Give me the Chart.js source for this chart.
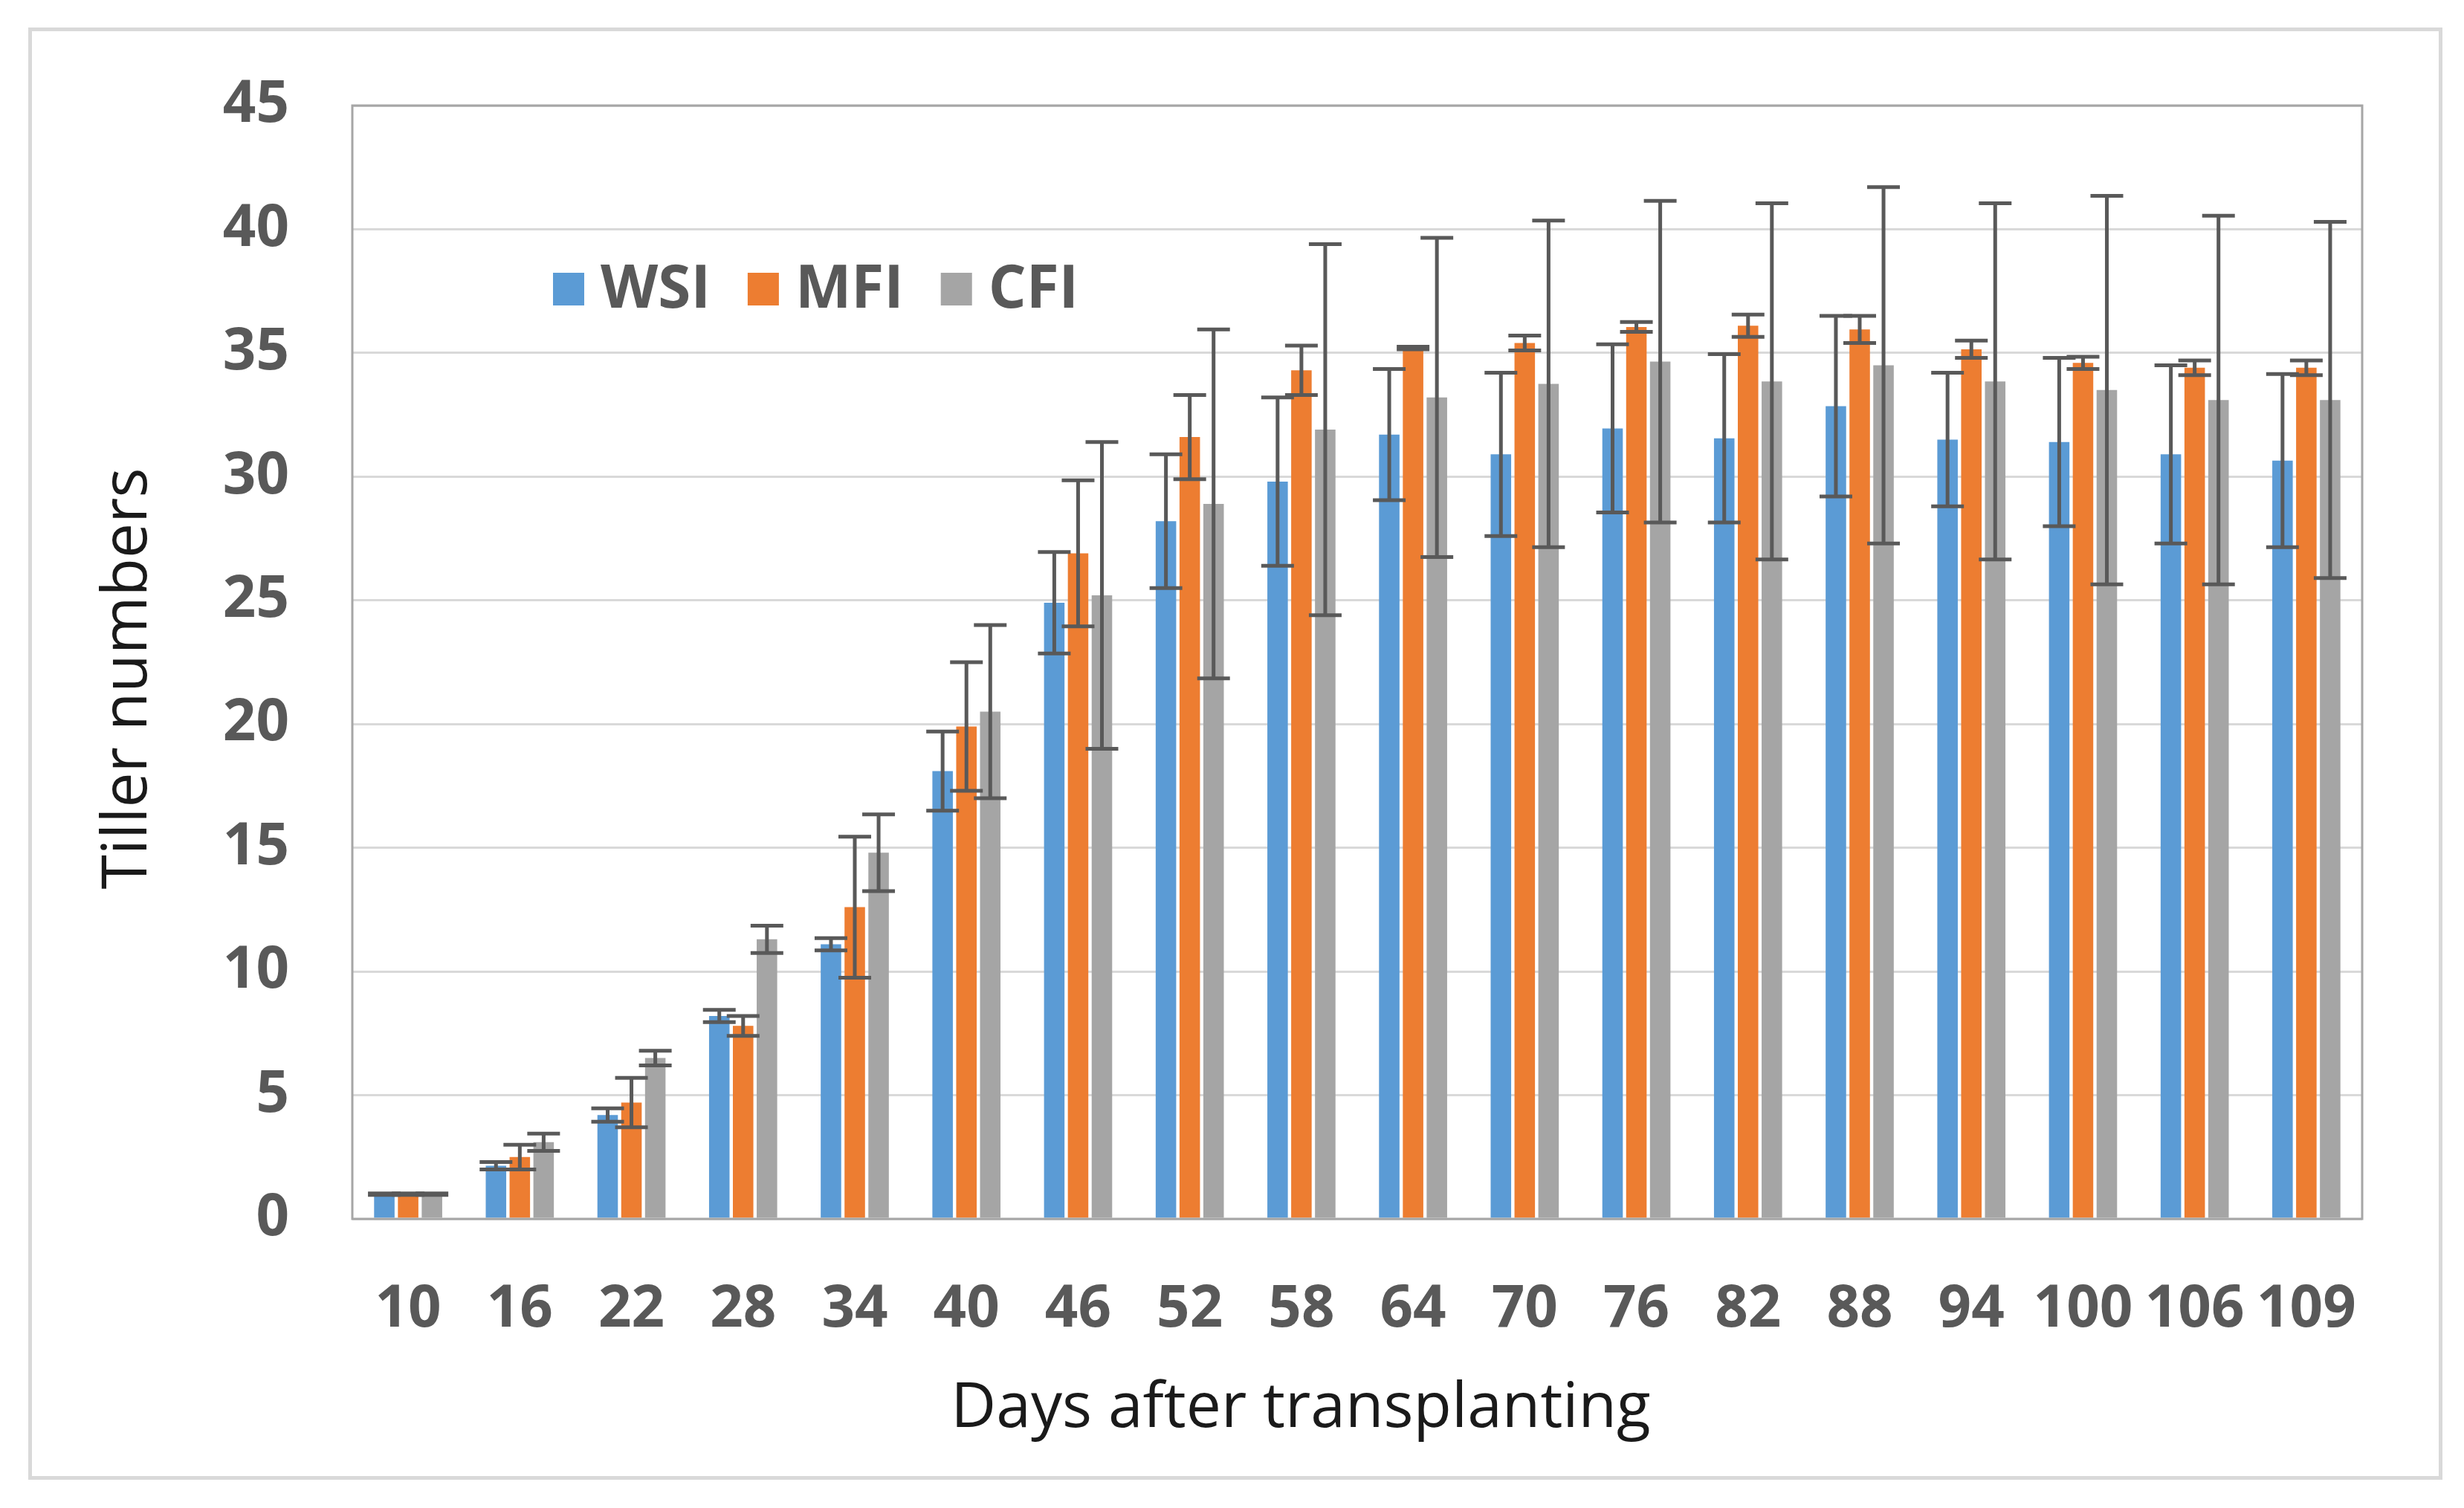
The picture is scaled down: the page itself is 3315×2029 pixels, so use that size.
<!DOCTYPE html>
<html>
<head>
<meta charset="utf-8">
<script src="https://cdn.jsdelivr.net/npm/chart.js@4.4.1/dist/chart.umd.min.js"></script>
<style>
    html, body { margin: 0; padding: 0; background: #ffffff; }
    #wrap { position: relative; width: 3315px; height: 2029px; }
    #frame {
        position: absolute; left: 38px; top: 37px; width: 3238px; height: 1944px;
        border: 5px solid #d9d9d9; pointer-events: none;
    }
</style>
</head>
<body>
<div id="wrap">
    <canvas id="chart"></canvas>
    <div id="frame"></div>
</div>
<script>
const days = ["10", "16", "22", "28", "34", "40", "46", "52", "58", "64", "70", "76", "82", "88", "94", "100", "106", "109"];

const wsi = [1.0, 2.15, 4.2, 8.2, 11.1, 18.1, 24.9, 28.2, 29.8, 31.7, 30.9, 31.95, 31.55, 32.85, 31.5, 31.4, 30.9, 30.65];
const wsiErr = [0.03, 0.15, 0.27, 0.25, 0.25, 1.6, 2.05, 2.7, 3.4, 2.65, 3.3, 3.4, 3.4, 3.65, 2.7, 3.4, 3.6, 3.5];

const mfi = [1.0, 2.5, 4.7, 7.8, 12.6, 19.9, 26.9, 31.6, 34.3, 35.2, 35.4, 36.05, 36.1, 35.95, 35.15, 34.6, 34.4, 34.4];
const mfiErr = [0.03, 0.5, 1.0, 0.4, 2.85, 2.6, 2.95, 1.7, 1.0, 0.05, 0.3, 0.2, 0.45, 0.55, 0.35, 0.25, 0.3, 0.3];

const cfi = [1.0, 3.1, 6.5, 11.3, 14.8, 20.5, 25.2, 28.9, 31.9, 33.2, 33.75, 34.65, 33.85, 34.5, 33.85, 33.5, 33.1, 33.1];
const cfiErr = [0.03, 0.35, 0.3, 0.55, 1.55, 3.5, 6.2, 7.05, 7.5, 6.45, 6.6, 6.5, 7.2, 7.2, 7.2, 7.85, 7.45, 7.2];

const xTitle = "Days after transplanting";
const yTitle = "Tiller numbers";

const colors = {
    wsi: "#5b9bd5",
    mfi: "#ed7d31",
    cfi: "#a5a5a5",
    tick: "#595959",
    title: "#1a1a1a",
    grid: "#d9d9d9",
    frame: "#a6a6a6",
    errorBar: "#595959",
};

const fontFamily = "'Open Sans', 'Noto Sans', sans-serif";

// error bars drawn on top of each bar
const errorBars = {
    id: "errorBars",
    afterDatasetsDraw(chart) {
        const ctx = chart.ctx;
        const y = chart.scales.y;
        ctx.save();
        ctx.strokeStyle = colors.errorBar;
        ctx.lineWidth = 5;
        chart.data.datasets.forEach((ds, i) => {
            const meta = chart.getDatasetMeta(i);
            meta.data.forEach((bar, j) => {
                const v = ds.data[j];
                const e = ds.errors[j];
                const top = y.getPixelForValue(v + e);
                const bottom = y.getPixelForValue(v - e);
                const half = 22;
                ctx.beginPath();
                ctx.moveTo(bar.x, top);
                ctx.lineTo(bar.x, bottom);
                ctx.moveTo(bar.x - half, top);
                ctx.lineTo(bar.x + half, top);
                ctx.moveTo(bar.x - half, bottom);
                ctx.lineTo(bar.x + half, bottom);
                ctx.stroke();
            });
        });
        ctx.restore();
    },
};

// plot frame, axis titles and the legend inside the plot area
const plotDecor = {
    id: "plotDecor",
    afterDraw(chart) {
        const ctx = chart.ctx;
        const area = chart.chartArea;
        ctx.save();
        ctx.strokeStyle = colors.frame;
        ctx.lineWidth = 3;
        ctx.strokeRect(area.left, area.top, area.right - area.left, area.bottom - area.top);

        // axis titles
        ctx.fillStyle = colors.title;
        ctx.font = "84px " + fontFamily;
        ctx.textAlign = "center";
        ctx.textBaseline = "middle";
        ctx.fillText(xTitle, 1750, 1896);
        ctx.save();
        ctx.translate(173, 913);
        ctx.rotate(-Math.PI / 2);
        ctx.fillText(yTitle, 0, 0);
        ctx.restore();

        // legend
        ctx.font = "bold 80px " + fontFamily;
        ctx.textAlign = "left";
        let x = area.left + 270;
        const yMid = area.top + 247;
        chart.data.datasets.forEach((ds) => {
            ctx.fillStyle = ds.backgroundColor;
            ctx.fillRect(x, yMid - 22, 42, 44);
            x += 42 + 22;
            ctx.fillStyle = colors.tick;
            ctx.fillText(ds.label, x, yMid + 2);
            x += ctx.measureText(ds.label).width + 50;
        });
        ctx.restore();
    },
};

const canvas = document.getElementById("chart");

new Chart(canvas, {
    type: "bar",
    data: {
        labels: days,
        datasets: [
            { label: "WSI", data: wsi, errors: wsiErr, backgroundColor: colors.wsi },
            { label: "MFI", data: mfi, errors: mfiErr, backgroundColor: colors.mfi },
            { label: "CFI", data: cfi, errors: cfiErr, backgroundColor: colors.cfi },
        ],
    },
    options: {
        responsive: true,
        maintainAspectRatio: false,
        devicePixelRatio: 1,
        animation: false,
        layout: {
            padding: { left: 125, right: 137, top: 142, bottom: 85 },
        },
        datasets: {
            bar: {
                categoryPercentage: 0.64,
                barPercentage: 0.86,
            },
        },
        plugins: {
            legend: { display: false },
            tooltip: { enabled: false },
        },
        scales: {
            x: {
                grid: { display: false, drawTicks: false },
                border: { display: false },
                ticks: {
                    color: colors.tick,
                    padding: 76,
                    maxRotation: 0,
                    autoSkip: false,
                    font: { family: fontFamily, size: 78, weight: "bold" },
                },
                afterFit: (scale) => {
                    scale.height = 304;
                },
            },
            y: {
                min: 0,
                max: 45,
                ticks: {
                    stepSize: 5,
                    color: colors.tick,
                    padding: 85,
                    font: { family: fontFamily, size: 78, weight: "bold" },
                },
                grid: {
                    color: colors.grid,
                    lineWidth: 3,
                    drawTicks: false,
                },
                border: { display: false },
                afterFit: (scale) => {
                    scale.width = 349;
                },
            },
        },
    },
    plugins: [errorBars, plotDecor],
});
</script>
</body>
</html>
